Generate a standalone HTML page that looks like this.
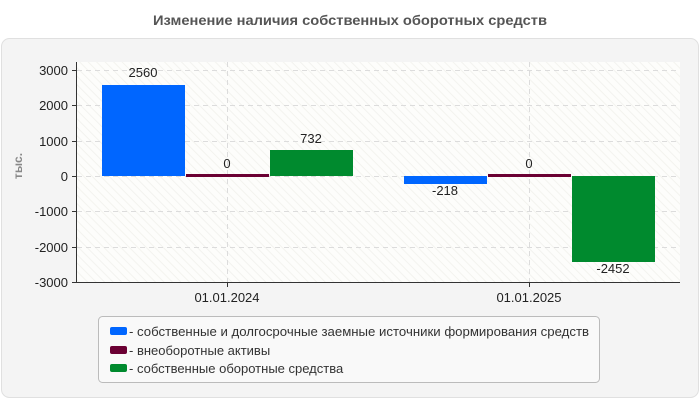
<!DOCTYPE html>
<html><head><meta charset="utf-8"><style>
body{margin:0;background:#fff;width:700px;height:400px;overflow:hidden;font-family:"Liberation Sans",sans-serif}
</style></head><body>
<svg width="700" height="400" xmlns="http://www.w3.org/2000/svg" font-family="Liberation Sans, sans-serif">
<defs><pattern id="h" width="6" height="6" patternUnits="userSpaceOnUse" patternTransform="rotate(-45)"><rect width="6" height="6" fill="#fdfdfb"/><line x1="0" y1="0" x2="0" y2="6" stroke="#f3f3ef" stroke-width="2"/></pattern></defs>
<text x="350" y="25" text-anchor="middle" font-size="14" font-weight="bold" fill="#555" textLength="394" lengthAdjust="spacingAndGlyphs">Изменение наличия собственных оборотных средств</text>
<rect x="1.5" y="38.5" width="697" height="359" rx="8" fill="#f4f4f4" stroke="#e0e0e0"/>
<rect x="77" y="62" width="603" height="220" fill="url(#h)"/>
<g stroke="#dcdcdc" stroke-dasharray="5,4">
<line x1="77" x2="680" y1="70.5" y2="70.5"/><line x1="77" x2="680" y1="105.5" y2="105.5"/><line x1="77" x2="680" y1="141.5" y2="141.5"/><line x1="77" x2="680" y1="176.5" y2="176.5"/><line x1="77" x2="680" y1="211.5" y2="211.5"/><line x1="77" x2="680" y1="247.5" y2="247.5"/>
<line x1="227.5" x2="227.5" y1="62" y2="282"/><line x1="529.5" x2="529.5" y1="62" y2="282"/>
</g>
<rect x="102" y="85" width="83" height="91" fill="#0066ff"/>
<rect x="186" y="174" width="83" height="3" fill="#6b0033"/>
<rect x="270" y="150" width="83" height="26" fill="#008a2e"/>
<rect x="404" y="176" width="83" height="8" fill="#0066ff"/>
<rect x="488" y="174" width="83" height="3" fill="#6b0033"/>
<rect x="572" y="176" width="83" height="86" fill="#008a2e"/>
<g stroke="#333"><line x1="76.5" y1="62" x2="76.5" y2="282"/><line x1="76" y1="282.5" x2="680" y2="282.5"/>
<line x1="72" x2="77" y1="70.5" y2="70.5"/><line x1="72" x2="77" y1="105.5" y2="105.5"/><line x1="72" x2="77" y1="141.5" y2="141.5"/><line x1="72" x2="77" y1="176.5" y2="176.5"/><line x1="72" x2="77" y1="211.5" y2="211.5"/><line x1="72" x2="77" y1="247.5" y2="247.5"/><line x1="72" x2="77" y1="282.5" y2="282.5"/>
<line x1="227.5" x2="227.5" y1="282" y2="287"/><line x1="529.5" x2="529.5" y1="282" y2="287"/></g>
<g font-size="13" fill="#222" text-anchor="end">
<text x="68" y="75">3000</text><text x="68" y="110">2000</text><text x="68" y="146">1000</text><text x="68" y="181">0</text><text x="68" y="216">-1000</text><text x="68" y="252">-2000</text><text x="68" y="287">-3000</text></g>
<g font-size="13" fill="#222" text-anchor="middle">
<text x="227" y="302">01.01.2024</text><text x="529" y="302">01.01.2025</text>
<text x="143" y="77">2560</text><text x="227" y="168">0</text><text x="311" y="143">732</text>
<text x="445" y="195">-218</text><text x="529" y="168">0</text><text x="613" y="273">-2452</text></g>
<text transform="translate(22,166) rotate(-90)" text-anchor="middle" font-size="12" font-weight="bold" fill="#888">тыс.</text>
<rect x="98.5" y="316.5" width="501" height="66" rx="4" fill="#f9f9f9" stroke="#bbb"/>
<g font-size="13" fill="#333">
<rect x="110" y="327" width="17" height="8" rx="2" fill="#0066ff"/><text x="129" y="336" textLength="460" lengthAdjust="spacingAndGlyphs">- собственные и долгосрочные заемные источники формирования средств</text>
<rect x="110" y="346" width="17" height="8" rx="2" fill="#6b0033"/><text x="129" y="355">- внеоборотные активы</text>
<rect x="110" y="364" width="17" height="8" rx="2" fill="#008a2e"/><text x="129" y="373">- собственные оборотные средства</text></g>
</svg>
</body></html>
